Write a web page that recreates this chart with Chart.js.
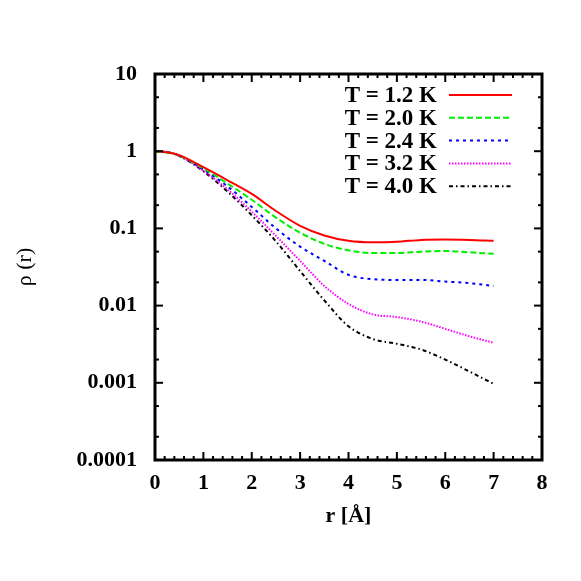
<!DOCTYPE html>
<html>
<head>
<meta charset="utf-8">
<script src="https://cdn.jsdelivr.net/npm/chart.js@4.4.1/dist/chart.umd.min.js"></script>
<style>
  html, body { margin: 0; padding: 0; background: #fff; }
  #wrap { width: 581px; height: 581px; }
</style>
</head>
<body>
<div id="wrap"><canvas id="chart"></canvas></div>
<script>
// r in Angstrom, rho(r) for each temperature
const r = [0, 0.25, 0.5, 1, 1.5, 2, 2.5, 3, 3.5, 4, 4.5, 5, 5.5, 6, 6.5, 7];
const rhoT12 = [1.0, 0.97, 0.89, 0.62, 0.42, 0.28, 0.168, 0.108, 0.081, 0.069, 0.066, 0.067, 0.071, 0.072, 0.071, 0.069];
const rhoT20 = [0.98, 0.96, 0.88, 0.6, 0.38, 0.235, 0.138, 0.088, 0.063, 0.052, 0.048, 0.048, 0.05, 0.051, 0.049, 0.047];
const rhoT24 = [1.0, 0.97, 0.88, 0.58, 0.35, 0.19, 0.1, 0.058, 0.038, 0.025, 0.022, 0.0215, 0.0215, 0.0205, 0.0195, 0.018];
const rhoT32 = [1.0, 0.97, 0.87, 0.56, 0.32, 0.165, 0.08, 0.038, 0.018, 0.0105, 0.0077, 0.0071, 0.0062, 0.005, 0.004, 0.0033];
const rhoT40 = [1.0, 0.97, 0.87, 0.55, 0.3, 0.148, 0.068, 0.028, 0.0117, 0.0054, 0.0037, 0.0032, 0.0027, 0.002, 0.0014, 0.00097];
const seriesLabels = ['T = 1.2 K', 'T = 2.0 K', 'T = 2.4 K', 'T = 3.2 K', 'T = 4.0 K'];

const xTicks = [0, 1, 2, 3, 4, 5, 6, 7, 8];
const xMinor = [];
for (let i = 0; i <= 40; i++) if (i % 5) xMinor.push(i / 5);
const yTicks = [10, 1, 0.1, 0.01, 0.001, 0.0001];
const yMinor = [5, 2, 0.5, 0.2, 0.05, 0.02, 0.005, 0.002, 0.0005, 0.0002];

const FONT = '"Liberation Serif", "Times New Roman", serif';

function toPoints(vals) {
  return vals.map((v, i) => ({ x: r[i], y: v }));
}

const styles = [
  { color: '#ff0000', dash: [] },
  { color: '#00ee00', dash: [6, 3] },
  { color: '#0000ff', dash: [3, 4] },
  { color: '#ff00ff', dash: [1.5, 1.5] },
  { color: '#000000', dash: [4, 3, 1.5, 3] },
];

const allSeries = [rhoT12, rhoT20, rhoT24, rhoT32, rhoT40];

// frame, inward ticks on all four sides, legend in the upper right
const framePlugin = {
  id: 'frame',
  afterDatasetsDraw(chart) {
    const { ctx, chartArea: a, scales: { x, y } } = chart;
    ctx.save();
    ctx.strokeStyle = '#000';
    ctx.lineWidth = 2;
    ctx.setLineDash([]);
    const seg = (x1, y1, x2, y2) => {
      ctx.beginPath(); ctx.moveTo(x1, y1); ctx.lineTo(x2, y2); ctx.stroke();
    };
    xTicks.forEach(v => {
      const p = x.getPixelForValue(v);
      seg(p, a.bottom, p, a.bottom - 8); seg(p, a.top, p, a.top + 8);
    });
    xMinor.forEach(v => {
      const p = x.getPixelForValue(v);
      seg(p, a.bottom, p, a.bottom - 4); seg(p, a.top, p, a.top + 4);
    });
    yTicks.forEach(v => {
      const p = y.getPixelForValue(v);
      seg(a.left, p, a.left + 8, p); seg(a.right, p, a.right - 8, p);
    });
    yMinor.forEach(v => {
      const p = y.getPixelForValue(v);
      seg(a.left, p, a.left + 4, p); seg(a.right, p, a.right - 4, p);
    });
    ctx.lineWidth = 3;
    ctx.strokeRect(a.left, a.top, a.right - a.left, a.bottom - a.top);

    // legend
    ctx.font = 'bold 23px ' + FONT;
    ctx.textAlign = 'right';
    ctx.textBaseline = 'middle';
    chart.data.datasets.forEach((ds, i) => {
      const ly = a.top + 21 + i * 22.8;
      ctx.fillStyle = '#000';
      ctx.fillText(ds.label, a.left + 282, ly + 1);
      ctx.strokeStyle = ds.borderColor;
      ctx.lineWidth = 2;
      ctx.setLineDash(ds.borderDash);
      seg(a.left + 294, ly, a.left + 357, ly);
    });
    ctx.restore();
  }
};

new Chart(document.getElementById('chart'), {
  type: 'line',
  data: {
    datasets: allSeries.map((vals, i) => ({
      label: seriesLabels[i],
      data: toPoints(vals),
      borderColor: styles[i].color,
      borderDash: styles[i].dash,
      borderWidth: 2,
      pointRadius: 0,
      cubicInterpolationMode: 'monotone',
      fill: false,
    })),
  },
  options: {
    responsive: true,
    maintainAspectRatio: false,
    animation: false,
    layout: { padding: { top: 74, right: 39, left: 0, bottom: 0 } },
    plugins: { legend: { display: false }, tooltip: { enabled: false } },
    scales: {
      x: {
        type: 'linear',
        min: 0,
        max: 8,
        grid: { display: false },
        border: { display: false },
        afterBuildTicks: (s) => { s.ticks = xTicks.map(v => ({ value: v })); },
        afterFit: (s) => { s.height = 121; },
        ticks: {
          padding: 2,
          color: '#000',
          font: { family: FONT, size: 22, weight: 'bold' },
          callback: (v) => String(v),
        },
        title: {
          display: true,
          text: 'r [Å]',
          color: '#000',
          font: { family: FONT, size: 22, weight: 'bold' },
          padding: { bottom: 51 },
        },
      },
      y: {
        type: 'logarithmic',
        min: 0.0001,
        max: 10,
        grid: { display: false },
        border: { display: false },
        afterBuildTicks: (s) => { s.ticks = yTicks.map(v => ({ value: v })); },
        afterFit: (s) => { s.width = 155; },
        ticks: {
          padding: 10,
          color: '#000',
          font: { family: FONT, size: 22, weight: 'bold' },
          callback: (v) => String(v),
        },
        title: {
          display: true,
          text: 'ρ (r)',
          color: '#000',
          font: { family: FONT, size: 22 },
          padding: { top: 12 },
        },
      },
    },
  },
  plugins: [framePlugin],
});
</script>
</body>
</html>
